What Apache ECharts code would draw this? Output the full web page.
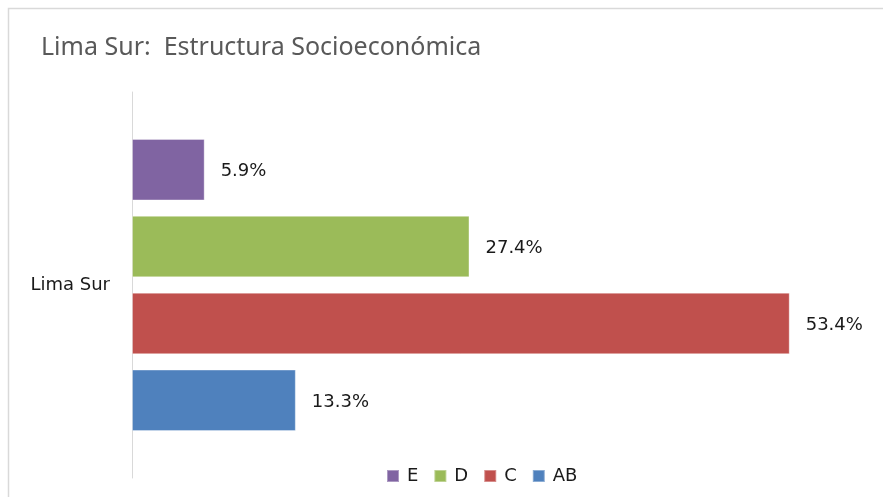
<!DOCTYPE html>
<html>
<head>
<meta charset="UTF-8">
<title>Lima Sur: Estructura Socioeconómica</title>
<script src="https://cdn.jsdelivr.net/npm/echarts@6/dist/echarts.min.js"></script>
</head>
<body style="margin:0;background:#fff">
    <div id="main" style="width:883px;height:497px"></div>
</body>
<script>
    // datos
    var categories = ['Lima Sur'];
    var seriesNames = ['E', 'D', 'C', 'AB'];
    var seriesValues = [[5.9], [27.4], [53.4], [13.3]];
    var seriesColors = ['#8064a2', '#9bbb59', '#c0504d', '#4f81bd'];
    var legendOrder = ['E', 'D', 'C', 'AB'];

    var myChart = echarts.init(document.getElementById('main'));

    var series = [];
    for (var i = 0; i < seriesNames.length; i++) {
        series.push({
            name: seriesNames[i],
            type: 'bar',
            data: seriesValues[i],
            barWidth: 61.5,
            barGap: '25%',
            itemStyle: {
                color: seriesColors[i],
                borderColor: 'rgba(255,255,255,0.35)',
                borderWidth: 1
            },
            label: {
                show: true,
                position: 'right',
                distance: 16,
                color: '#1a1a1a',
                fontFamily: 'DejaVu Sans',
                fontSize: 18,
                offset: [0, 2],
                formatter: function (p) { return p.value.toFixed(1) + '%'; }
            }
        });
    }

    var option = {
        backgroundColor: '#fff',
        animation: false,
        title: {
            text: 'Lima Sur:  Estructura Socioeconómica',
            left: 36,
            top: 30,
            textStyle: {
                color: '#595959',
                fontFamily: 'Noto Sans',
                fontWeight: 'normal',
                fontSize: 25
            }
        },
        legend: {
            data: legendOrder,
            left: 381,
            top: 462,
            itemWidth: 12,
            itemHeight: 12,
            itemGap: 15,
            icon: 'rect',
            textStyle: {
                color: '#1a1a1a',
                fontFamily: 'DejaVu Sans',
                fontSize: 18,
                padding: [0, 0, 0, 3]
            }
        },
        grid: {
            left: 132,
            right: 12,
            top: 92,
            bottom: 19,
            containLabel: false
        },
        xAxis: {
            type: 'value',
            min: 0,
            max: 60,
            show: false
        },
        yAxis: {
            type: 'category',
            data: categories,
            axisLine: { show: true, lineStyle: { color: '#d9d9d9', width: 1 } },
            axisTick: { show: false },
            axisLabel: {
                margin: 22,
                color: '#1a1a1a',
                fontFamily: 'DejaVu Sans',
                fontSize: 18
            }
        },
        graphic: [{
            type: 'rect',
            shape: { x: 8.5, y: 8.5, width: 900, height: 500 },
            style: { fill: 'none', stroke: '#d9d9d9', lineWidth: 1.5 },
            silent: true
        }],
        series: series
    };
    myChart.setOption(option);
</script>
</html>
